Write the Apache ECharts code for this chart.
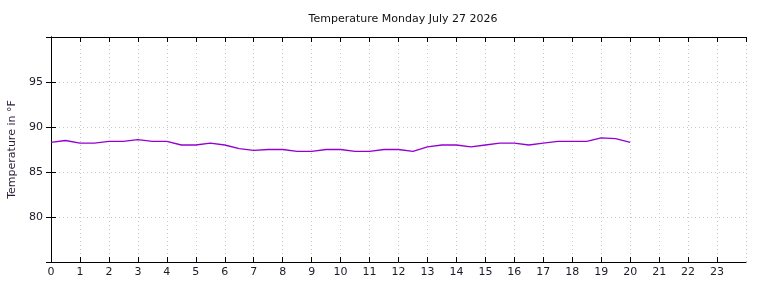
<!DOCTYPE html>
<html><head><meta charset="utf-8">
<script src="https://cdn.jsdelivr.net/npm/echarts@6/dist/echarts.min.js"></script>
<style>html,body{margin:0;padding:0;background:#fff}#c{width:768px;height:288px}</style>
</head><body><div id="c"></div>
<script>
const titleText = 'Temperature Monday July 27 2026';
const yAxisName = 'Temperature in °F';
const hours = [0,0.5,1,1.5,2,2.5,3,3.5,4,4.5,5,5.5,6,6.5,7,7.5,8,8.5,9,9.5,10,10.5,11,11.5,12,12.5,13,13.5,14,14.5,15,15.5,16,16.5,17,17.5,18,18.5,19,19.5,20];
const temps = [88.3,88.5,88.2,88.2,88.4,88.4,88.6,88.4,88.4,88.0,88.0,88.2,88.0,87.6,87.4,87.5,87.5,87.3,87.3,87.5,87.5,87.3,87.3,87.5,87.5,87.3,87.8,88.0,88.0,87.8,88.0,88.2,88.2,88.0,88.2,88.4,88.4,88.4,88.8,88.7,88.3];
const xMin = 0, xMax = 24, xStep = 1;
const yMin = 75, yMax = 100, yStep = 5;

const font = 'DejaVu Sans';
const chart = echarts.init(document.getElementById('c'), null, {renderer:'canvas'});
const gridLine = {show:true, lineStyle:{color:'#c8c8c8', type:[1,3], width:1}};
const axLine = {show:true, lineStyle:{color:'#000', width:1}};
const ticks = {show:true, inside:true, length:5, lineStyle:{color:'#000'}};
chart.setOption({
  animation:false,
  title:{text:titleText, left:398, top:9, textAlign:'center',
    textStyle:{fontFamily:font, fontSize:11, fontWeight:'normal', color:'#111'}},
  grid:{left:51, right:22, top:37, bottom:26, containLabel:false, outerBoundsMode:'none'},
  xAxis:[
    {type:'value', min:xMin, max:xMax, interval:xStep, position:'bottom',
     axisLine:axLine, axisTick:ticks, splitLine:gridLine,
     axisLabel:{fontFamily:font, fontSize:11, color:'#1a1a2a', margin:5, showMaxLabel:false,
       formatter:v=> v>=24 ? '' : String(v)}},
    {type:'value', min:xMin, max:xMax, interval:xStep, position:'top',
     axisLine:axLine, axisTick:ticks, splitLine:{show:false}, axisLabel:{show:false}}
  ],
  yAxis:[
    {type:'value', min:yMin, max:yMax, interval:yStep, position:'left',
     name:yAxisName, nameLocation:'middle', nameGap:29,
     nameTextStyle:{fontFamily:font, fontSize:11, color:'#2a1a35'},
     axisLine:axLine, axisTick:ticks, splitLine:gridLine,
     axisLabel:{fontFamily:font, fontSize:11, color:'#1a1a2a', margin:8, showMinLabel:false, showMaxLabel:false}},
    {type:'value', min:yMin, max:yMax, interval:yStep, position:'right',
     axisLine:axLine, axisTick:ticks, splitLine:{show:false}, axisLabel:{show:false}}
  ],
  series:[{type:'line', data:hours.map((h,i)=>[h,temps[i]]), showSymbol:false,
    lineStyle:{color:'#9400d3', width:1.3}, itemStyle:{color:'#9400d3'}}]
});
</script></body></html>
